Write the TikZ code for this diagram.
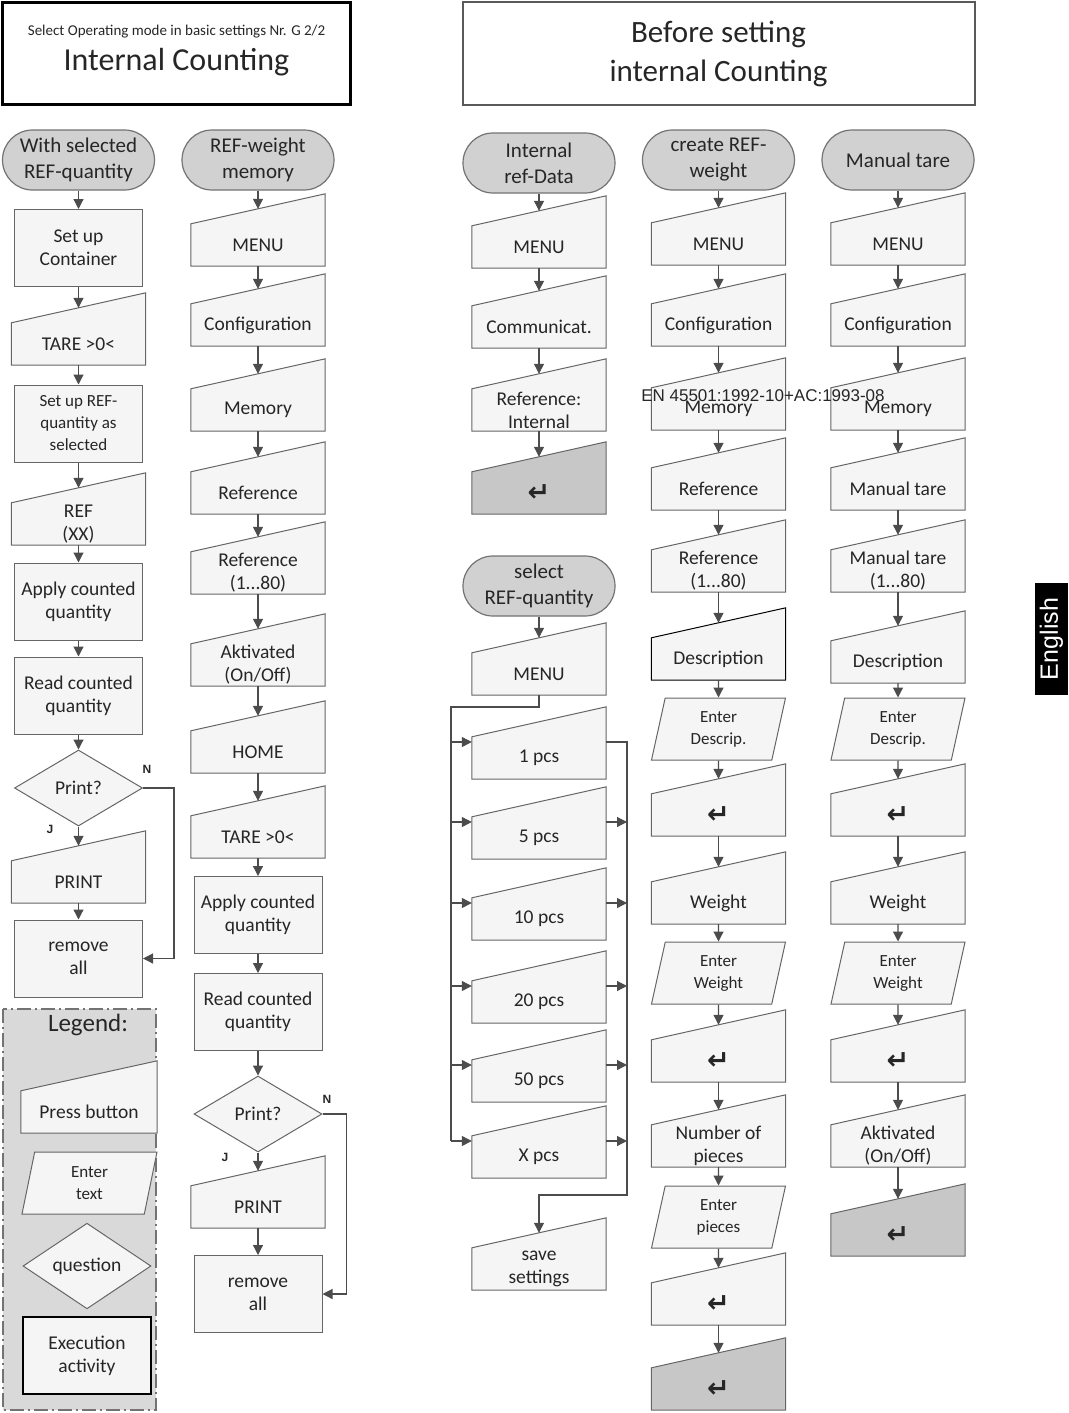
\documentclass[tikz,border=0pt]{standalone}
\usepackage{fontspec}
\setmainfont{Carlito}
\newfontfamily\arialfont{Liberation Sans}
\newfontfamily\symbfont{DejaVu Sans}
\usetikzlibrary{shapes.geometric,shapes.misc,arrows.meta,backgrounds,positioning}
\newcommand{\retkey}{{\symbfont\bfseries\fontsize{27}{27}\selectfont ↵}}

\begin{document}
\begin{tikzpicture}[
        x=1pt, y=-1pt,
        txt/.style={text=black!85, align=center, inner sep=0pt, font=\fontsize{19.5}{23}\selectfont},
        term/.style={txt, rounded rectangle, draw=black!55, line width=1.2pt, fill=black!18, minimum width=152pt, minimum height=60pt, font=\fontsize{21}{26}\selectfont},
        proc/.style={txt, rectangle, draw=black!60, line width=1pt, fill=black!4, minimum width=128pt, minimum height=77pt},
        manual/.style={txt, rectangle, minimum width=134pt, minimum height=42pt},
        entry/.style={txt, trapezium, trapezium left angle=69, trapezium right angle=111, trapezium stretches body=true, draw=black!60, line width=1pt, fill=black!4, minimum width=134pt, minimum height=62pt, font=\fontsize{17}{22}\selectfont},
        query/.style={txt, diamond, draw=black!60, line width=1pt, fill=black!4, minimum width=128pt, minimum height=76pt},
        manshape/.style={draw=black!60, line width=1pt, fill=black!4},
        keyshape/.style={manshape, fill=black!22},
        line/.style={draw=black!70, line width=1.2pt},
        arr/.style={line, -{Triangle[length=10pt,width=10pt]}},
        yesno/.style={font=\arialfont\bfseries\fontsize{12}{14}\selectfont, text=black!85, inner sep=0pt}
    ]
    \useasboundingbox (0,0) rectangle (1068,1413);

    % --- Titles ---
    \node[draw=black, line width=2.5pt, minimum width=348pt, minimum height=102pt, inner sep=0pt] (titleL) at (176.5,53.5) {};
    \node[txt, font=\fontsize{15}{18}\selectfont] (modeline) at (176.5,32) {Select Operating mode in basic settings Nr. G 2/2};
    \node[txt, font=\fontsize{32}{36}\selectfont] (titleLtext) at (176.5,62) {Internal Counting};
    \node[txt, draw=black!65, line width=2pt, minimum width=512pt, minimum height=102pt, font=\fontsize{31}{39}\selectfont] (titleR) at (718.5,53.5) {Before setting\\internal Counting};

    % --- Column 1: with selected REF-quantity ---
    \node[term] (t1) at (78.5,160) {With selected\\REF-quantity};
    \node[proc] (c1a) at (78.5,248) {Set up\\Container};
    \node[manual] (c1b) at (78.5,344) {TARE >0<};
    \node[proc, font=\fontsize{17}{22}\selectfont] (c1c) at (78.5,423.5) {Set up REF-\\quantity as\\selected};
    \node[manual] (c1d) at (78.5,524) {REF\\(XX)};
    \node[proc] (c1e) at (78.5,601.5) {Apply counted\\quantity};
    \node[proc] (c1f) at (78.5,695.5) {Read counted\\quantity};
    \node[query] (q1) at (78.5,788) {Print?};
    \node[manual] (c1g) at (78.5,882) {PRINT};
    \node[proc] (rm1) at (78.5,958.5) {remove\\all};
    \node[yesno] (n1) at (147,769) {N};
    \node[yesno] (j1) at (50,829) {J};

    % --- Column 2: REF-weight memory ---
    \node[term] (t2) at (258,160) {REF-weight\\memory};
    \node[manual] (c2a) at (258,245) {MENU};
    \node[manual] (c2b) at (258,325) {Configuration};
    \node[manual] (c2c) at (258,410) {Memory};
    \node[manual] (c2d) at (258,493) {Reference};
    \node[manual] (c2e) at (258,573) {Reference\\(1...80)};
    \node[manual] (c2f) at (258,665) {Aktivated\\(On/Off)};
    \node[manual] (c2g) at (258,752) {HOME};
    \node[manual] (c2h) at (258,837) {TARE >0<};
    \node[proc] (c2i) at (258,915) {Apply counted\\quantity};
    \node[proc] (c2j) at (258,1012) {Read counted\\quantity};
    \node[query] (q2) at (258,1114) {Print?};
    \node[manual] (c2k) at (258,1207) {PRINT};
    \node[proc] (rm2) at (258,1294) {remove\\all};
    \node[yesno] (n2) at (327,1099) {N};
    \node[yesno] (j2) at (225,1157) {J};

    % --- Legend ---
    \node[txt, font=\fontsize{25}{28}\selectfont] (legtitle) at (88,1025) {Legend:};
    \node[manual, minimum width=136pt] (l1) at (89,1112) {Press button};
    \node[entry, minimum width=135pt] (l2) at (89.5,1183) {Enter\\text};
    \node[query] (l3) at (87,1266) {question};
    \node[proc, draw=black, line width=2.5pt] (l4) at (87,1355.5) {Execution\\activity};

    % --- Column A: internal ref-data and REF-quantity ---
    \node[term] (t3) at (539,163) {Internal\\ref-Data};
    \node[manual] (a1) at (539,247) {MENU};
    \node[manual] (a2) at (539,327) {Communicat.};
    \node[manual] (a3) at (539,410) {Reference:\\Internal};
    \node[manual] (a4) at (539,493) {\retkey};
    \node[term] (t4) at (539,586) {select\\REF-quantity};
    \node[manual] (a5) at (539,674) {MENU};
    \node[manual] (p1) at (539,758) {1 pcs};
    \node[manual] (p2) at (539,838) {5 pcs};
    \node[manual] (p3) at (539,919) {10 pcs};
    \node[manual] (p4) at (539,1002) {20 pcs};
    \node[manual] (p5) at (539,1081) {50 pcs};
    \node[manual] (p6) at (539,1157) {X pcs};
    \node[manual] (a6) at (539,1269) {save\\settings};

    % --- Column B: create REF-weight ---
    \node[term] (t5) at (718.5,160) {create REF-\\weight};
    \node[manual] (b1) at (718.5,244) {MENU};
    \node[manual] (b2) at (718.5,325) {Configuration};
    \node[manual] (b3) at (718.5,409) {Memory};
    \node[manual] (b4) at (718.5,489) {Reference};
    \node[manual] (b5) at (718.5,571) {Reference\\(1...80)};
    \node[manual] (b6) at (718.5,659) {Description};
    \node[entry] (b7) at (718.5,729) {Enter\\Descrip.};
    \node[manual] (b8) at (718.5,815) {\retkey};
    \node[manual] (b9) at (718.5,903) {Weight};
    \node[entry] (b10) at (718.5,973) {Enter\\Weight};
    \node[manual] (b11) at (718.5,1061) {\retkey};
    \node[manual] (b12) at (718.5,1146) {Number of\\pieces};
    \node[entry] (b13) at (718.5,1217) {Enter\\pieces};
    \node[manual] (b14) at (718.5,1304) {\retkey};
    \node[manual] (b15) at (718.5,1389) {\retkey};

    % --- Column C: manual tare ---
    \node[term] (t6) at (898,160) {Manual tare};
    \node[manual] (e1) at (898,244) {MENU};
    \node[manual] (e2) at (898,325) {Configuration};
    \node[manual] (e3) at (898,409) {Memory};
    \node[manual] (e4) at (898,489) {Manual tare};
    \node[manual] (e5) at (898,571) {Manual tare\\(1...80)};
    \node[manual] (e6) at (898,662) {Description};
    \node[entry] (e7) at (898,729) {Enter\\Descrip.};
    \node[manual] (e8) at (898,815) {\retkey};
    \node[manual] (e9) at (898,903) {Weight};
    \node[entry] (e10) at (898,973) {Enter\\Weight};
    \node[manual] (e11) at (898,1061) {\retkey};
    \node[manual] (e12) at (898,1146) {Aktivated\\(On/Off)};
    \node[manual] (e13) at (898,1235) {\retkey};

    % --- Press-button outlines ---
    \begin{scope}[on background layer]
        \filldraw[fill=black!15, draw=black!55, line width=2pt, dash pattern=on 14pt off 4pt on 2pt off 4pt] (3,1009) rectangle (156,1410);
        \foreach \n in {c1b,c1d,c1g,c2a,c2b,c2c,c2d,c2e,c2f,c2g,c2h,c2k,a1,a2,a3,a5,p1,p2,p3,p4,p5,p6,a6,
                        b1,b2,b3,b4,b5,b8,b9,b11,b12,b14,e1,e2,e3,e4,e5,e6,e8,e9,e11,e12,l1} {
            \filldraw[manshape] (\n.south west) -- (\n.north west) -- ([yshift=30pt]\n.north east) -- (\n.south east) -- cycle;
        }
        \filldraw[manshape, draw=black] (b6.south west) -- (b6.north west) -- ([yshift=30pt]b6.north east) -- (b6.south east) -- cycle;
        \foreach \n in {a4,b15,e13} {
            \filldraw[keyshape] (\n.south west) -- (\n.north west) -- ([yshift=30pt]\n.north east) -- (\n.south east) -- cycle;
        }
    \end{scope}

    % --- Arrows ---
    \foreach \a/\b in {c1a/c1b,c1c/c1d,q1/c1g,t2/c2a,c2a/c2b,c2b/c2c,c2c/c2d,c2d/c2e,c2e/c2f,c2f/c2g,c2g/c2h,q2/c2k,
                       t3/a1,a1/a2,a2/a3,a3/a4,t4/a5,t5/b1,b1/b2,b2/b3,b3/b4,b4/b5,b5/b6,b7/b8,b8/b9,b10/b11,b11/b12,b13/b14,b14/b15,
                       t6/e1,e1/e2,e2/e3,e3/e4,e4/e5,e5/e6,e7/e8,e8/e9,e10/e11,e11/e12,e12/e13} {
        \draw[arr] (\a.south) -- ([yshift=15pt]\b.north);
    }
    \foreach \a/\b in {t1/c1a,c1b/c1c,c1d/c1e,c1e/c1f,c1f/q1,c1g/rm1,c2h/c2i,c2i/c2j,c2j/q2,c2k/rm2,
                       b6/b7,b9/b10,b12/b13,e6/e7,e9/e10} {
        \draw[arr] (\a.south) -- (\b.north);
    }
    \draw[arr] (q1.east) -- ++(31,0) |- (rm1.east);
    \draw[arr] (q2.east) -- ++(24,0) |- (rm2.east);

    % --- REF-quantity selection ---
    \coordinate (lbus) at (451,707);
    \coordinate (rbus) at (627,1195);
    \foreach \n in {p1,p2,p3,p4,p5,p6} {
        \coordinate (\n-l) at ([yshift=16pt]\n.west);
        \coordinate (\n-r) at ([yshift=16pt]\n.east);
        \draw[arr] (lbus |- \n-l) -- (\n-l);
    }
    \draw[line] (a5.south) |- (lbus) -- (lbus |- p6-l);
    \foreach \n in {p2,p3,p4,p5,p6} {
        \draw[arr] (\n-r) -- (rbus |- \n-r);
    }
    \draw[arr] (p1-r) -| (rbus) -| ([yshift=15pt]a6.north);

    % --- Side notes ---
    \node[font=\arialfont\fontsize{17}{20}\selectfont, text=black!85, inner sep=0pt] (norm) at (763,396) {EN 45501:1992-10+AC:1993-08};
    \node[fill=black, text=white, rotate=90, minimum width=112pt, minimum height=33pt, inner sep=0pt, font=\arialfont\fontsize{25}{25}\selectfont] (lang) at (1051.5,639) {English};

\end{tikzpicture}
\end{document}
